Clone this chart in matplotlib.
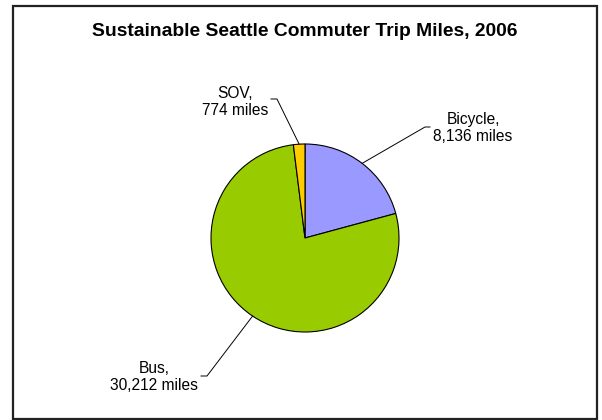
import numpy as np
import matplotlib.pyplot as plt
from matplotlib.patches import Rectangle

plt.rcParams['font.family'] = ['Liberation Sans', 'DejaVu Sans']

# commuter trip miles by mode
modes = ["Bicycle", "Bus", "SOV"]
miles = [8136, 30212, 774]
colors = ["#9999FF", "#99CC00", "#FFCC00"]

W, H = 602, 420
fig = plt.figure(figsize=(W / 100, H / 100), dpi=100)
ax = fig.add_axes([0, 0, 1, 1])

cx, cy, r = 305, H - 238, 94
wedges, _ = ax.pie(miles, colors=colors, startangle=90, counterclock=False,
                   center=(cx, cy), radius=r,
                   wedgeprops=dict(edgecolor="black", linewidth=0.8))
ax.set_xlim(0, W)
ax.set_ylim(0, H)
ax.set_aspect("auto")
ax.axis("off")

# label box centres, leader knee and tail end (pixels from top-left)
label_pos = {"Bicycle": (473, 128), "Bus": (154, 377), "SOV": (235, 102)}
knee = {"Bicycle": (425, 127), "Bus": (207, 376), "SOV": (277, 99)}
tail = {"Bicycle": 430, "Bus": 201, "SOV": 271}

for w, name, val in zip(wedges, modes, miles):
    mid = np.deg2rad((w.theta1 + w.theta2) / 2)
    ex, ey = cx + r * np.cos(mid), cy + r * np.sin(mid)
    kx, ky = knee[name]
    ax.plot([ex, kx, tail[name]], [ey, H - ky, H - ky], color="black", lw=0.7)
    lx, ly = label_pos[name]
    ax.text(lx, H - ly, "{},\n{:,} miles".format(name, val), ha="center",
            va="center", multialignment="center", fontsize=11.2,
            linespacing=1.2)

fig.text(305 / W, 1 - 32 / H, "Sustainable Seattle Commuter Trip Miles, 2006",
         ha="center", va="center", fontsize=13.9, fontweight="bold")

# outer chart border
fig.patches.append(Rectangle((13 / W, 1.5 / H), 584 / W, 413 / H,
                             transform=fig.transFigure, fill=False,
                             edgecolor="#222222", linewidth=1.6))

fig.savefig("out.png", dpi=100)
